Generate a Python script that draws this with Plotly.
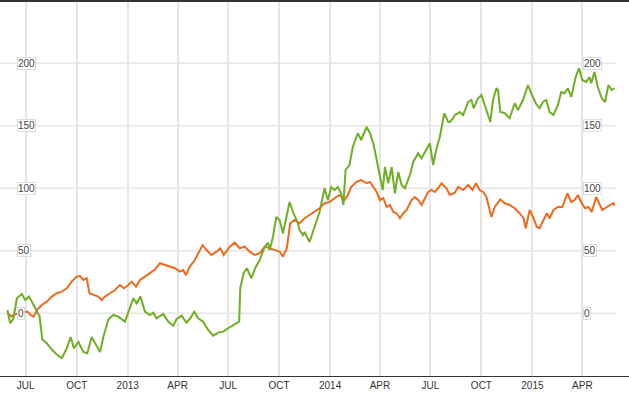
import plotly.graph_objects as go

# ---- data ----
green_dates = [
    "2012-05-29", "2012-06-03", "2012-06-09", "2012-06-15", "2012-06-24", "2012-06-30",
    "2012-07-07", "2012-07-14", "2012-07-20", "2012-07-26", "2012-07-31", "2012-08-08",
    "2012-08-17", "2012-08-26", "2012-09-04", "2012-09-13", "2012-09-20", "2012-09-26",
    "2012-10-04", "2012-10-13", "2012-10-20", "2012-10-28", "2012-11-06", "2012-11-12",
    "2012-11-18", "2012-11-27", "2012-12-06", "2012-12-15", "2012-12-27", "2013-01-05",
    "2013-01-11", "2013-01-17", "2013-01-24", "2013-02-01", "2013-02-10", "2013-02-16",
    "2013-02-22", "2013-03-06", "2013-03-15", "2013-03-24", "2013-03-30", "2013-04-08",
    "2013-04-17", "2013-04-24", "2013-05-01", "2013-05-08", "2013-05-17", "2013-05-26",
    "2013-06-04", "2013-06-13", "2013-06-22", "2013-07-01", "2013-07-10", "2013-07-16",
    "2013-07-21", "2013-07-23", "2013-07-29", "2013-08-04", "2013-08-12", "2013-08-20",
    "2013-08-27", "2013-09-05", "2013-09-11", "2013-09-14", "2013-09-20", "2013-09-26",
    "2013-10-02", "2013-10-08", "2013-10-14", "2013-10-20", "2013-10-27", "2013-11-04",
    "2013-11-07", "2013-11-13", "2013-11-16", "2013-11-25", "2013-12-04", "2013-12-13",
    "2013-12-22", "2013-12-28", "2014-01-03", "2014-01-09", "2014-01-15", "2014-01-21",
    "2014-01-25", "2014-01-29", "2014-02-05", "2014-02-11", "2014-02-20", "2014-02-26",
    "2014-03-08", "2014-03-14", "2014-03-20", "2014-03-26", "2014-04-01", "2014-04-06",
    "2014-04-10", "2014-04-16", "2014-04-22", "2014-04-28", "2014-05-04", "2014-05-10",
    "2014-05-16", "2014-05-25", "2014-05-31", "2014-06-09", "2014-06-15", "2014-06-21",
    "2014-06-30", "2014-07-06", "2014-07-12", "2014-07-18", "2014-07-26", "2014-08-02",
    "2014-08-05", "2014-08-11", "2014-08-14", "2014-08-20", "2014-08-23", "2014-08-29",
    "2014-09-07", "2014-09-13", "2014-09-17", "2014-09-25", "2014-10-01", "2014-10-07",
    "2014-10-13", "2014-10-17", "2014-10-22", "2014-10-28", "2014-10-31", "2014-11-04",
    "2014-11-12", "2014-11-21", "2014-11-30", "2014-12-06", "2014-12-15", "2014-12-24",
    "2014-12-30", "2015-01-07", "2015-01-14", "2015-01-20", "2015-01-26", "2015-02-01",
    "2015-02-08", "2015-02-16", "2015-02-22", "2015-02-28", "2015-03-06", "2015-03-12",
    "2015-03-20", "2015-03-26", "2015-04-01", "2015-04-08", "2015-04-14", "2015-04-17",
    "2015-04-23", "2015-04-29", "2015-05-06", "2015-05-12", "2015-05-18", "2015-05-24",
    "2015-05-29",
]
green_values = [
    2.6, -8, -4, 12, 15.4, 10.6,
    13.3, 8, 2.6, -2.7, -21, -24,
    -29, -33, -36, -28, -19, -28,
    -23, -31, -32, -19, -27, -31,
    -19, -5, -1.4, -2.7, -6.7, 5.3,
    12, 8, 13.3, 1.3, -1.4, 0.5,
    -4, -0.6, -6.7, -10, -4.8, -2,
    -7.5, -4, 1.3, -4, -6.7, -13.4,
    -18, -15.5, -14.7, -12, -9.4, -8,
    -6.7, 20, 32, 36, 28, 37,
    42.6, 53, 56.5, 50.6, 61, 77,
    74.6, 64, 77, 89, 80, 72,
    66.6, 62.6, 65, 57, 69, 81,
    100, 90.6, 101, 98.6, 101, 96,
    86.6, 114.6, 118.6, 133, 144, 138.6,
    149, 144, 136, 122.6, 109, 98.6,
    117, 104, 117, 96, 113, 102.6,
    100, 110.6, 121, 128, 124, 129,
    136, 118.6, 132, 141, 160, 153,
    153, 156, 158.6, 160, 161, 158.6,
    169, 170.6, 164, 172, 174.6, 166.6,
    158.6, 153, 170.6, 180, 178.6, 161,
    160, 156, 168, 162.6, 170.6, 182.6,
    176, 168, 164, 169, 170.6, 161,
    158.6, 166.6, 177, 176, 180, 173,
    189, 196, 186.6, 185, 189, 184,
    193, 181, 172, 169, 182.6, 178.6,
    180,
]

orange_dates = [
    "2012-05-29", "2012-06-06", "2012-06-10", "2012-06-22", "2012-07-04", "2012-07-10",
    "2012-07-15", "2012-07-21", "2012-07-30", "2012-08-08", "2012-08-17", "2012-08-26",
    "2012-09-04", "2012-09-13", "2012-09-22", "2012-10-01", "2012-10-07", "2012-10-13",
    "2012-10-19", "2012-10-24", "2012-10-31", "2012-11-09", "2012-11-15", "2012-11-21",
    "2012-11-30", "2012-12-09", "2012-12-18", "2012-12-25", "2013-01-02", "2013-01-08",
    "2013-01-16", "2013-01-23", "2013-02-01", "2013-02-10", "2013-02-19", "2013-02-28",
    "2013-03-09", "2013-03-18", "2013-03-27", "2013-04-05", "2013-04-11", "2013-04-16",
    "2013-04-23", "2013-05-02", "2013-05-10", "2013-05-16", "2013-05-23", "2013-06-01",
    "2013-06-10", "2013-06-17", "2013-06-23", "2013-07-04", "2013-07-13", "2013-07-22",
    "2013-07-31", "2013-08-09", "2013-08-18", "2013-08-27", "2013-09-05", "2013-09-14",
    "2013-09-23", "2013-10-02", "2013-10-08", "2013-10-15", "2013-10-21", "2013-10-29",
    "2013-11-07", "2013-11-16", "2013-11-25", "2013-12-04", "2013-12-13", "2013-12-22",
    "2013-12-31", "2014-01-09", "2014-01-18", "2014-01-27", "2014-02-02", "2014-02-08",
    "2014-02-17", "2014-02-26", "2014-03-08", "2014-03-14", "2014-03-20", "2014-03-26",
    "2014-04-01", "2014-04-07", "2014-04-13", "2014-04-19", "2014-04-25", "2014-05-01",
    "2014-05-07", "2014-05-13", "2014-05-19", "2014-05-28", "2014-06-03", "2014-06-09",
    "2014-06-15", "2014-06-21", "2014-06-27", "2014-07-03", "2014-07-09", "2014-07-15",
    "2014-07-21", "2014-07-30", "2014-08-05", "2014-08-14", "2014-08-20", "2014-08-29",
    "2014-09-07", "2014-09-15", "2014-09-21", "2014-09-28", "2014-10-04", "2014-10-10",
    "2014-10-15", "2014-10-19", "2014-10-25", "2014-11-04", "2014-11-12", "2014-11-21",
    "2014-11-30", "2014-12-09", "2014-12-16", "2014-12-20", "2014-12-27", "2015-01-02",
    "2015-01-09", "2015-01-14", "2015-01-21", "2015-01-27", "2015-02-01", "2015-02-08",
    "2015-02-16", "2015-02-24", "2015-03-05", "2015-03-12", "2015-03-18", "2015-03-24",
    "2015-03-31", "2015-04-06", "2015-04-12", "2015-04-18", "2015-04-26", "2015-05-01",
    "2015-05-07", "2015-05-15", "2015-05-21", "2015-05-27", "2015-05-29",
]
orange_values = [
    0, -2.7, -1, 0, 1.3, -1.4,
    -2.7, 2.6, 6.6, 9.3, 13.3, 16,
    17.3, 20, 25.3, 29.3, 29.8, 26.6,
    28, 16, 14.6, 13.3, 10.6, 13.3,
    16, 18.6, 22.6, 20, 22.6, 25.3,
    21.3, 26.6, 29.3, 32.5, 35, 40,
    38.6, 37.3, 36, 33.3, 34.6, 30.6,
    37.3, 42.6, 49.3, 54.6, 50.6, 46.6,
    49.3, 52, 46.6, 53.3, 56.5, 52,
    53.3, 49.3, 46.6, 48, 53.3, 52,
    50.6, 49.3, 45.3, 52, 72, 74.6,
    72, 76, 78.6, 81, 84, 88,
    89, 92, 94.6, 90.6, 94.6, 101,
    105, 106.6, 104, 105, 101, 97,
    90.6, 92, 85, 86.6, 81, 80,
    76, 80, 82.6, 90.6, 93, 90.6,
    86.6, 92, 97, 98.6, 97, 100,
    104, 100, 94.6, 96.5, 101, 98.6,
    102.6, 98.6, 104, 98.6, 97, 93,
    85, 77, 85, 91, 88, 86.6,
    84, 80, 76, 68, 82.6, 77,
    69, 68, 74.6, 80, 76, 82.6,
    85, 85, 96, 89, 90.6, 94.6,
    88, 84, 85, 81, 93, 88,
    82.6, 85, 86.6, 88, 86,
]

tick_dates = ["2012-07-01", "2012-10-01", "2013-01-01", "2013-04-01", "2013-07-01",
              "2013-10-01", "2014-01-01", "2014-04-01", "2014-07-01", "2014-10-01",
              "2015-01-01", "2015-04-01"]
tick_labels = ["JUL", "OCT", "2013", "APR", "JUL", "OCT", "2014", "APR", "JUL", "OCT",
               "2015", "APR"]
y_ticks = [0, 50, 100, 150, 200]

# ---- styling ----
GREEN = "#71ae26"
ORANGE = "#ee6a1e"
GRID = "#e6e6e6"
W, H = 629, 393
M_T, M_B = 0, 17
PLOT_H = H - M_T - M_B

fig = go.Figure()
fig.add_trace(go.Scatter(x=orange_dates, y=orange_values, mode="lines",
                         line=dict(color=ORANGE, width=2), hoverinfo="skip"))
fig.add_trace(go.Scatter(x=green_dates, y=green_values, mode="lines",
                         line=dict(color=GREEN, width=2), hoverinfo="skip"))

# horizontal grid lines (stop short of the right edge)
for v in y_ticks:
    fig.add_shape(type="line", xref="paper", yref="y", x0=0, x1=616 / W, y0=v, y1=v,
                  line=dict(color=GRID, width=1.5), layer="below")

# dark border at the top
fig.add_shape(type="rect", xref="paper", yref="paper", x0=0, x1=1,
              y0=1 - 2 / PLOT_H, y1=1, line=dict(width=0), fillcolor="#333333")

# y value labels, left and right, boxed
for v in y_ticks:
    for xp in (17 / W, 583 / W):
        fig.add_annotation(x=xp, xref="paper", y=v, yref="y", text=str(v),
                           showarrow=False, xanchor="left", yanchor="middle",
                           font=dict(family="Liberation Sans, Arial", size=10, color="#444444"),
                           bgcolor="white", bordercolor="#dddddd", borderwidth=1, borderpad=0)

fig.update_layout(
    width=W, height=H,
    margin=dict(l=0, r=0, t=M_T, b=M_B, pad=0),
    paper_bgcolor="white", plot_bgcolor="white",
    showlegend=False,
    xaxis=dict(
        type="date",
        range=["2012-05-15 14:00", "2015-06-24 05:00"],
        tickvals=tick_dates, ticktext=tick_labels,
        showgrid=True, gridcolor=GRID, gridwidth=2,
        showline=True, linecolor="#333333", linewidth=1,
        ticks="", zeroline=False,
        tickfont=dict(family="Liberation Sans, Arial", size=10, color="#333333"),
    ),
    yaxis=dict(
        range=[-50.2, 250.6],
        showgrid=False, zeroline=False, showticklabels=False, ticks="",
    ),
)

fig.write_html(
    "out.html",
    config={"displayModeBar": False},
    post_script="document.body.style.margin='0';document.body.style.overflow='hidden';",
)
